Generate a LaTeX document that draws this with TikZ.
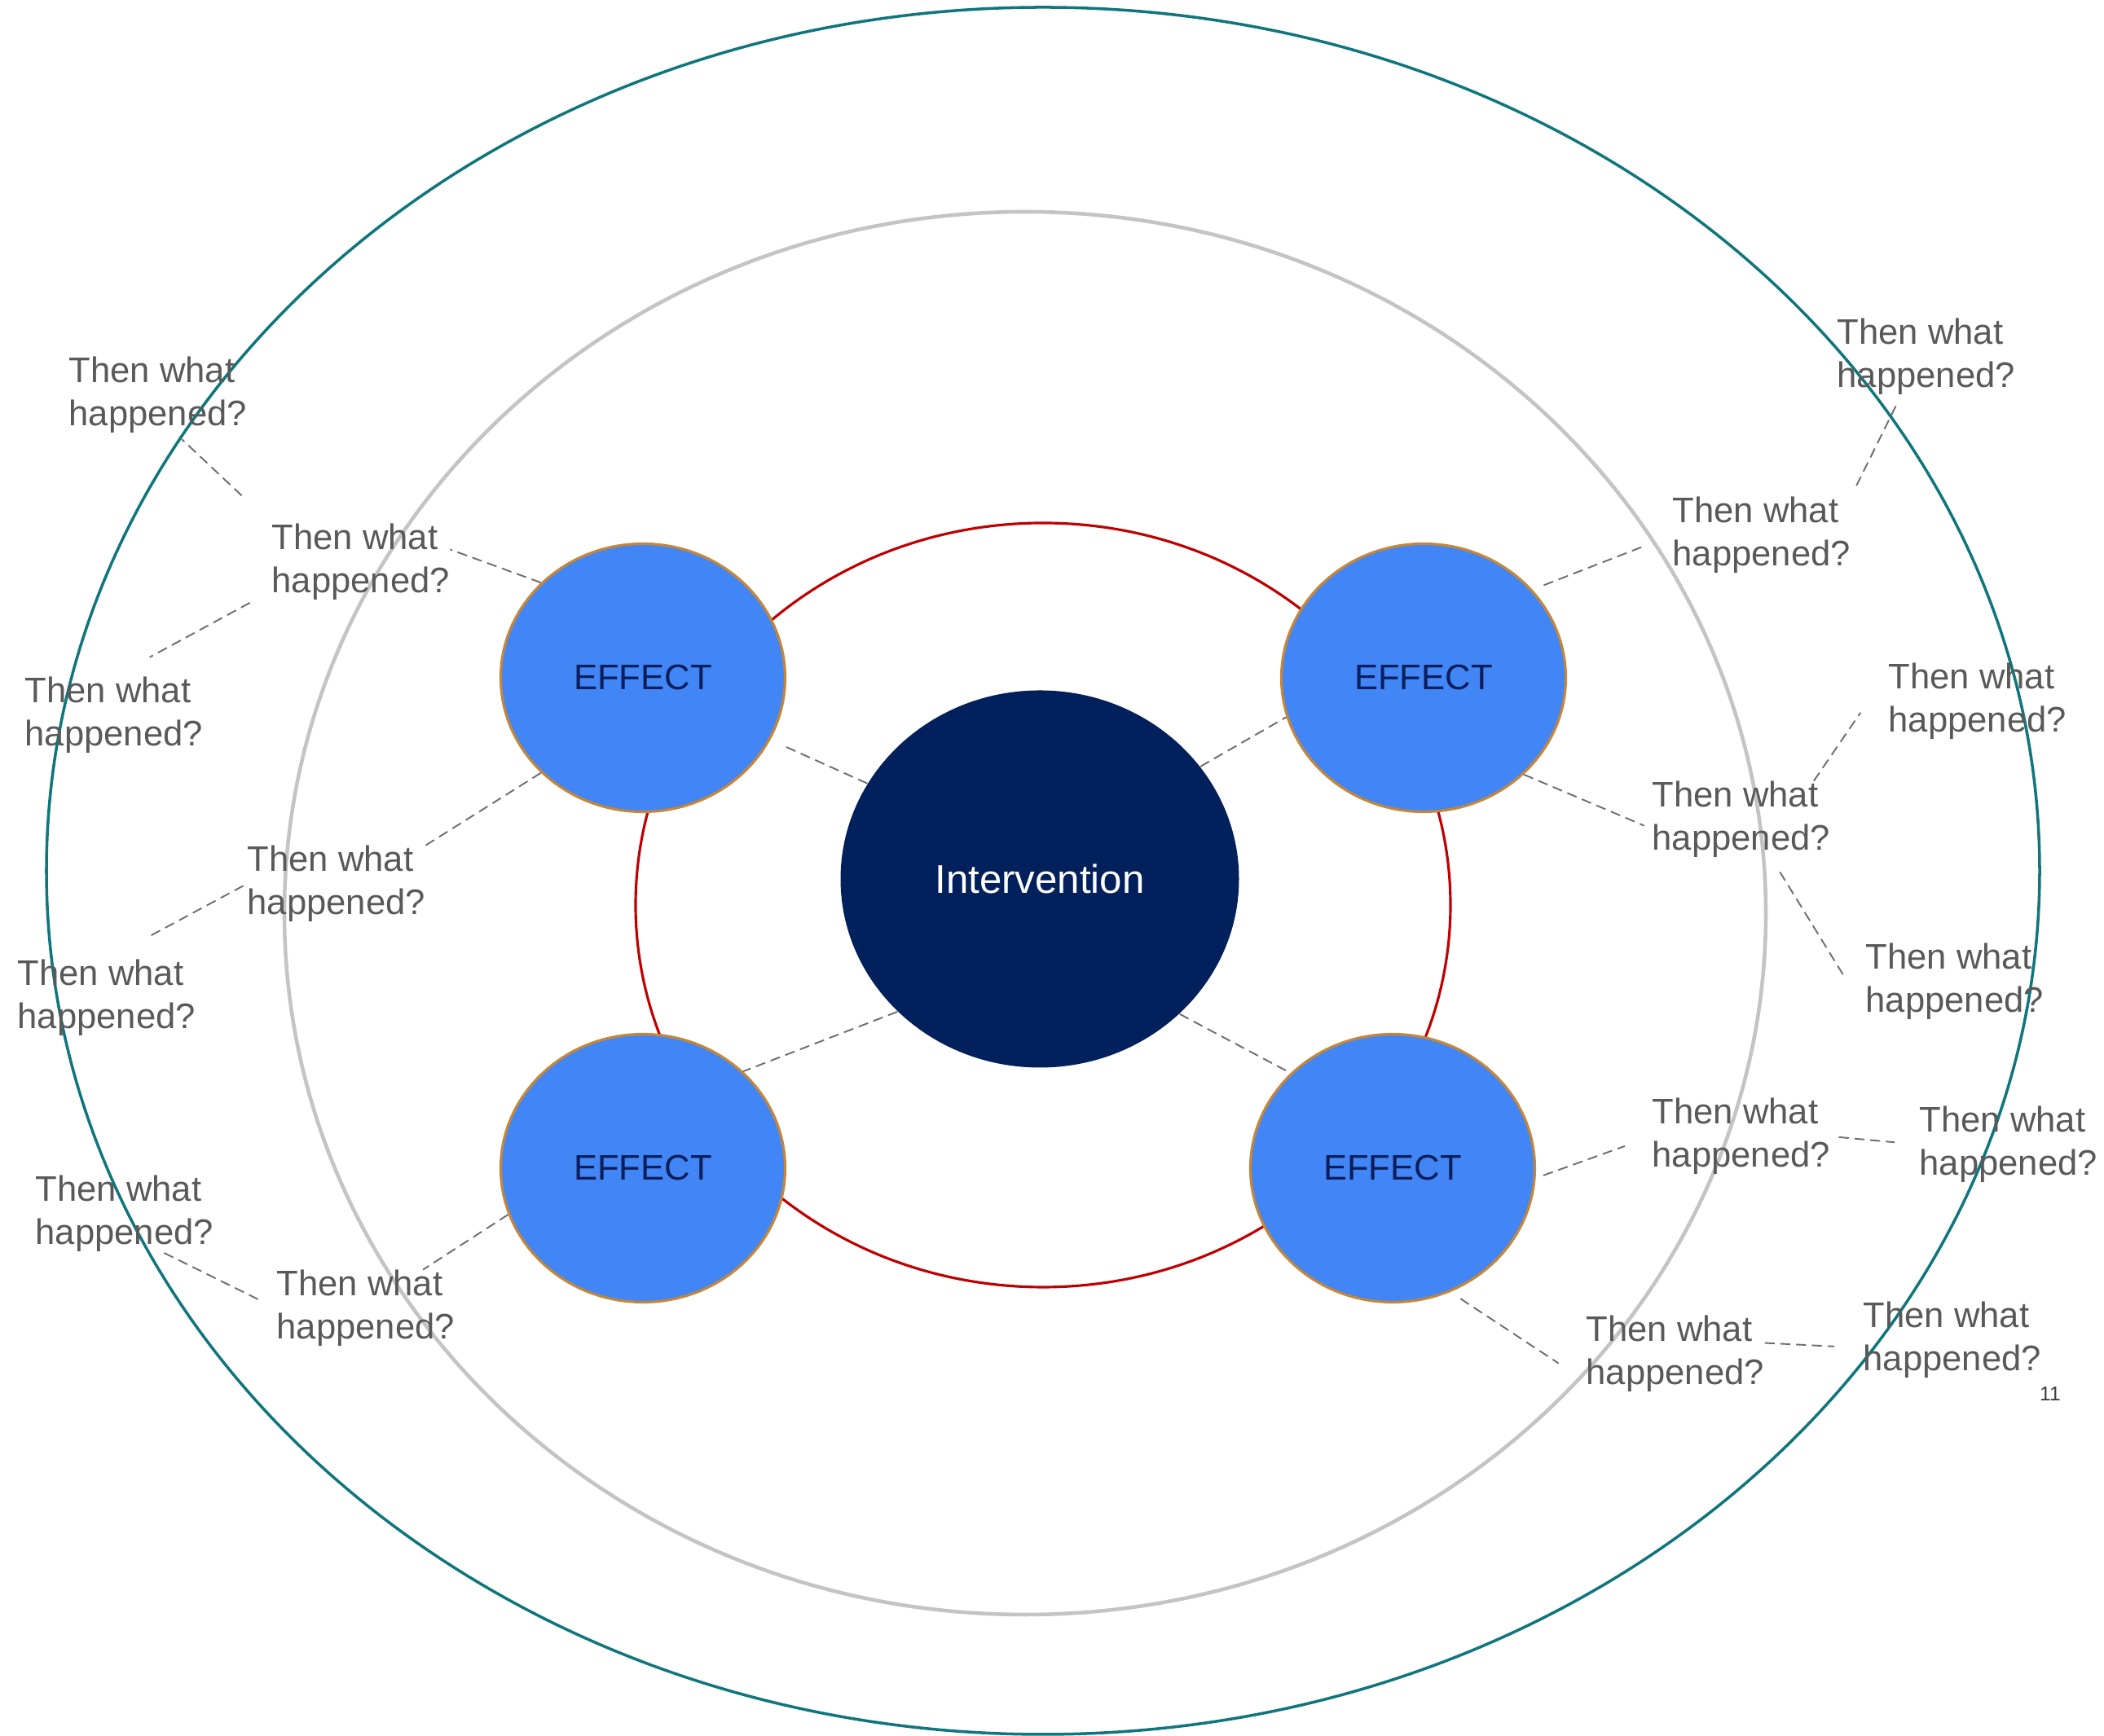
\documentclass[tikz,border=0pt]{standalone}
\usepackage{fontspec}
\setmainfont{Liberation Sans}
\usetikzlibrary{shapes.geometric}
\definecolor{colorOuter}{RGB}{16,118,124}
\definecolor{colorMid}{RGB}{196,196,196}
\definecolor{colorRing}{RGB}{192,0,0}
\definecolor{colorEffect}{RGB}{66,133,244}
\definecolor{colorEffectBorder}{RGB}{196,134,58}
\definecolor{colorEffectText}{RGB}{10,30,92}
\definecolor{colorInter}{RGB}{2,32,91}
\definecolor{colorQ}{RGB}{89,89,89}
\definecolor{colorLink}{RGB}{110,110,110}
\tikzset{
   effect/.style={ellipse,draw=colorEffectBorder,line width=0.9pt,fill=colorEffect,text=colorEffectText,minimum width=3.49cm,minimum height=3.29cm,inner sep=0pt,font=\fontsize{12.4}{15}\selectfont},
   inter/.style={ellipse,fill=colorInter,text=white,minimum width=4.89cm,minimum height=4.63cm,inner sep=0pt,font=\fontsize{14}{17}\selectfont},
   question/.style={anchor=west,align=left,inner sep=0pt,text=colorQ,font=\fontsize{12.4}{15}\selectfont},
   link/.style={color=colorLink,line width=0.55pt,dash pattern=on 3.5pt off 2pt},
}
\newcommand{\thenwhat}{Then what\\happened?}

\begin{document}
\begin{tikzpicture}

        \useasboundingbox (0,0) rectangle (25.82,21.31);

        % rings
        \draw[colorOuter,line width=1pt] (12.80,10.62) ellipse [x radius=12.23,y radius=10.60];
        \draw[colorMid,line width=1.3pt] (12.58,10.10) ellipse [x radius=9.09,y radius=8.61];
        \draw[colorRing,line width=0.9pt] (12.80,10.20) ellipse [x radius=5.00,y radius=4.69];

        \node[inter] (int) at (12.76, 10.52) {Intervention};

        \node[effect] (eTL) at ( 7.89, 12.99) {EFFECT};
        \node[effect] (eTR) at (17.47, 12.99) {EFFECT};
        \node[effect] (eBL) at ( 7.89,  6.97) {EFFECT};
        \node[effect] (eBR) at (17.09,  6.97) {EFFECT};

        \node[question] (q1)  at ( 0.84, 16.46) {\thenwhat};
        \node[question] (q2)  at ( 3.33, 14.41) {\thenwhat};
        \node[question] (q3)  at ( 0.30, 12.53) {\thenwhat};
        \node[question] (q4)  at ( 3.03, 10.46) {\thenwhat};
        \node[question] (q5)  at ( 0.21,  9.06) {\thenwhat};
        \node[question] (q6)  at ( 0.43,  6.41) {\thenwhat};
        \node[question] (q7)  at ( 3.39,  5.25) {\thenwhat};

        \node[question] (q8)  at (22.54, 16.93) {\thenwhat};
        \node[question] (q9)  at (20.52, 14.74) {\thenwhat};
        \node[question] (q10) at (23.17, 12.70) {\thenwhat};
        \node[question] (q11) at (20.27, 11.25) {\thenwhat};
        \node[question] (q12) at (22.89,  9.26) {\thenwhat};
        \node[question] (q13) at (20.27,  7.36) {\thenwhat};
        \node[question] (q14) at (23.55,  7.26) {\thenwhat};
        \node[question] (q15) at (19.46,  4.69) {\thenwhat};
        \node[question] (q16) at (22.86,  4.86) {\thenwhat};

        \node[text=colorQ!70!black,font=\fontsize{7}{8}\selectfont] (pageno) at (25.16, 4.20) {11};

        % intervention to effects
        \draw[link] (int.151) edge[shorten >=2mm] (eTL.-26);
        \draw[link] (int.35)  edge (eTR.196);
        \draw[link] (int.223) edge (eBL.44);
        \draw[link] (int.-44) edge (eBR.137);

        % left side
        \draw[link] (eTL.137) edge (q2.8);
        \draw[link] (q2.north west) edge[shorten <=5mm,shorten >=1mm] (q1.-65);
        \draw[link] (q2.198) edge[shorten <=3mm,shorten >=5mm] (q3.north);
        \draw[link] (eTL.223) edge (q4.north east);
        \draw[link] (q4.west) edge[shorten <=0.5mm,shorten >=6mm] (q5.north);
        \draw[link] (eBL.199) edge (q7.34);
        \draw[link] (q7.west) edge[shorten <=2.5mm] (q6.-45);

        % right side
        \draw[link] (eTR.39) edge[shorten <=1.5mm,shorten >=4mm] (q9.west);
        \draw[link] (q9.north east) edge[shorten <=1.5mm,shorten >=1mm] (q8.237);
        \draw[link] (eTR.-44) edge[shorten >=1mm] (q11.186);
        \draw[link] (q11.28) edge[shorten >=6mm] (q10.162);
        \draw[link] (q11.-52) edge[shorten <=2mm,shorten >=5mm] (q12.198);
        \draw[link] (eBR.-4) edge[shorten <=1mm,shorten >=3.5mm] (q13.west);
        \draw[link] (q13.east) edge[shorten <=1mm,shorten >=3mm] (q14.west);
        \draw[link] (eBR.-65) edge[shorten <=1.5mm,shorten >=4mm] (q15.197);
        \draw[link] (q15.7) edge[shorten >=3.5mm] (q16.185);

\end{tikzpicture}
\end{document}
